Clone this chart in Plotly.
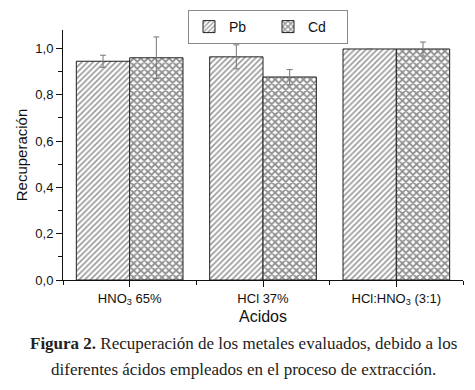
import plotly.graph_objects as go

categories = ["HNO<sub>3</sub> 65%", "HCl 37%", "HCl:HNO<sub>3</sub> (3:1)"]
pb_values = [0.945, 0.964, 0.998]
pb_errors = [0.026, 0.052, 0.0]
cd_values = [0.960, 0.877, 0.998]
cd_errors = [0.090, 0.032, 0.030]
y_ticks = [0.0, 0.2, 0.4, 0.6, 0.8, 1.0]

xpos = list(range(len(categories)))

fig = go.Figure()
fig.add_trace(go.Bar(
    name="Pb", x=xpos, y=pb_values,
    error_y=dict(type="data", array=pb_errors, color="#777777", thickness=1, width=3),
    marker=dict(color="white", line=dict(color="#222222", width=1),
                pattern=dict(shape="/", fgcolor="#333333", bgcolor="white", size=4, solidity=0.4)),
))
fig.add_trace(go.Bar(
    name="Cd", x=xpos, y=cd_values,
    error_y=dict(type="data", array=cd_errors, color="#777777", thickness=1, width=3),
    marker=dict(color="white", line=dict(color="#222222", width=1),
                pattern=dict(shape="x", fgcolor="#222222", bgcolor="white", size=5, solidity=0.6)),
))

fig.update_layout(
    width=475, height=390,
    margin=dict(l=55, r=20, t=22, b=118, autoexpand=False),
    paper_bgcolor="white", plot_bgcolor="white",
    barmode="group", bargap=0.2, bargroupgap=0,
    separators=",.",
    font=dict(family="Liberation Sans, Arial, sans-serif", color="#111111", size=12),
    showlegend=True,
    legend=dict(orientation="h", x=0.3125, y=1.08, xanchor="left", yanchor="top",
                bordercolor="#888888", borderwidth=1, bgcolor="white",
                font=dict(size=14), itemwidth=30, tracegroupgap=0,
                entrywidth=34, entrywidthmode="pixels"),
)
fig.update_xaxes(
    range=[-0.5, 2.5], tickmode="array", tickvals=xpos, ticktext=categories,
    showline=True, linecolor="#111111", linewidth=1,
    ticks="outside", ticklen=6, tickcolor="#111111",
    minor=dict(dtick=0.5, tick0=0.5, ticks="outside", ticklen=4, tickcolor="#111111"),
    showgrid=False, zeroline=False, automargin=False,
    title=dict(text="Acidos", font=dict(size=16), standoff=4),
    tickfont=dict(size=13),
)
fig.update_yaxes(
    range=[0, 1.08], tickmode="array", tickvals=y_ticks, tickformat=".1f",
    showline=True, linecolor="#111111", linewidth=1,
    ticks="outside", ticklen=6, tickcolor="#111111",
    minor=dict(dtick=0.1, tick0=0, ticks="outside", ticklen=4, tickcolor="#111111"),
    showgrid=False, zeroline=False, automargin=False,
    title=dict(text="Recuperación", font=dict(size=15), standoff=4),
    tickfont=dict(size=13),
)

fig.add_annotation(
    xref="paper", yref="paper", x=0.45, y=-0.252, xanchor="center", yanchor="middle",
    text="<b>Figura 2.</b> Recuperación de los metales evaluados, debido a los",
    showarrow=False, font=dict(family="Liberation Serif, DejaVu Serif, serif", size=17, color="#222222"),
)
fig.add_annotation(
    xref="paper", yref="paper", x=0.45, y=-0.36, xanchor="center", yanchor="middle",
    text="diferentes ácidos empleados en el proceso de extracción.",
    showarrow=False, font=dict(family="Liberation Serif, DejaVu Serif, serif", size=17, color="#222222"),
)

fig.write_html("out.html")
